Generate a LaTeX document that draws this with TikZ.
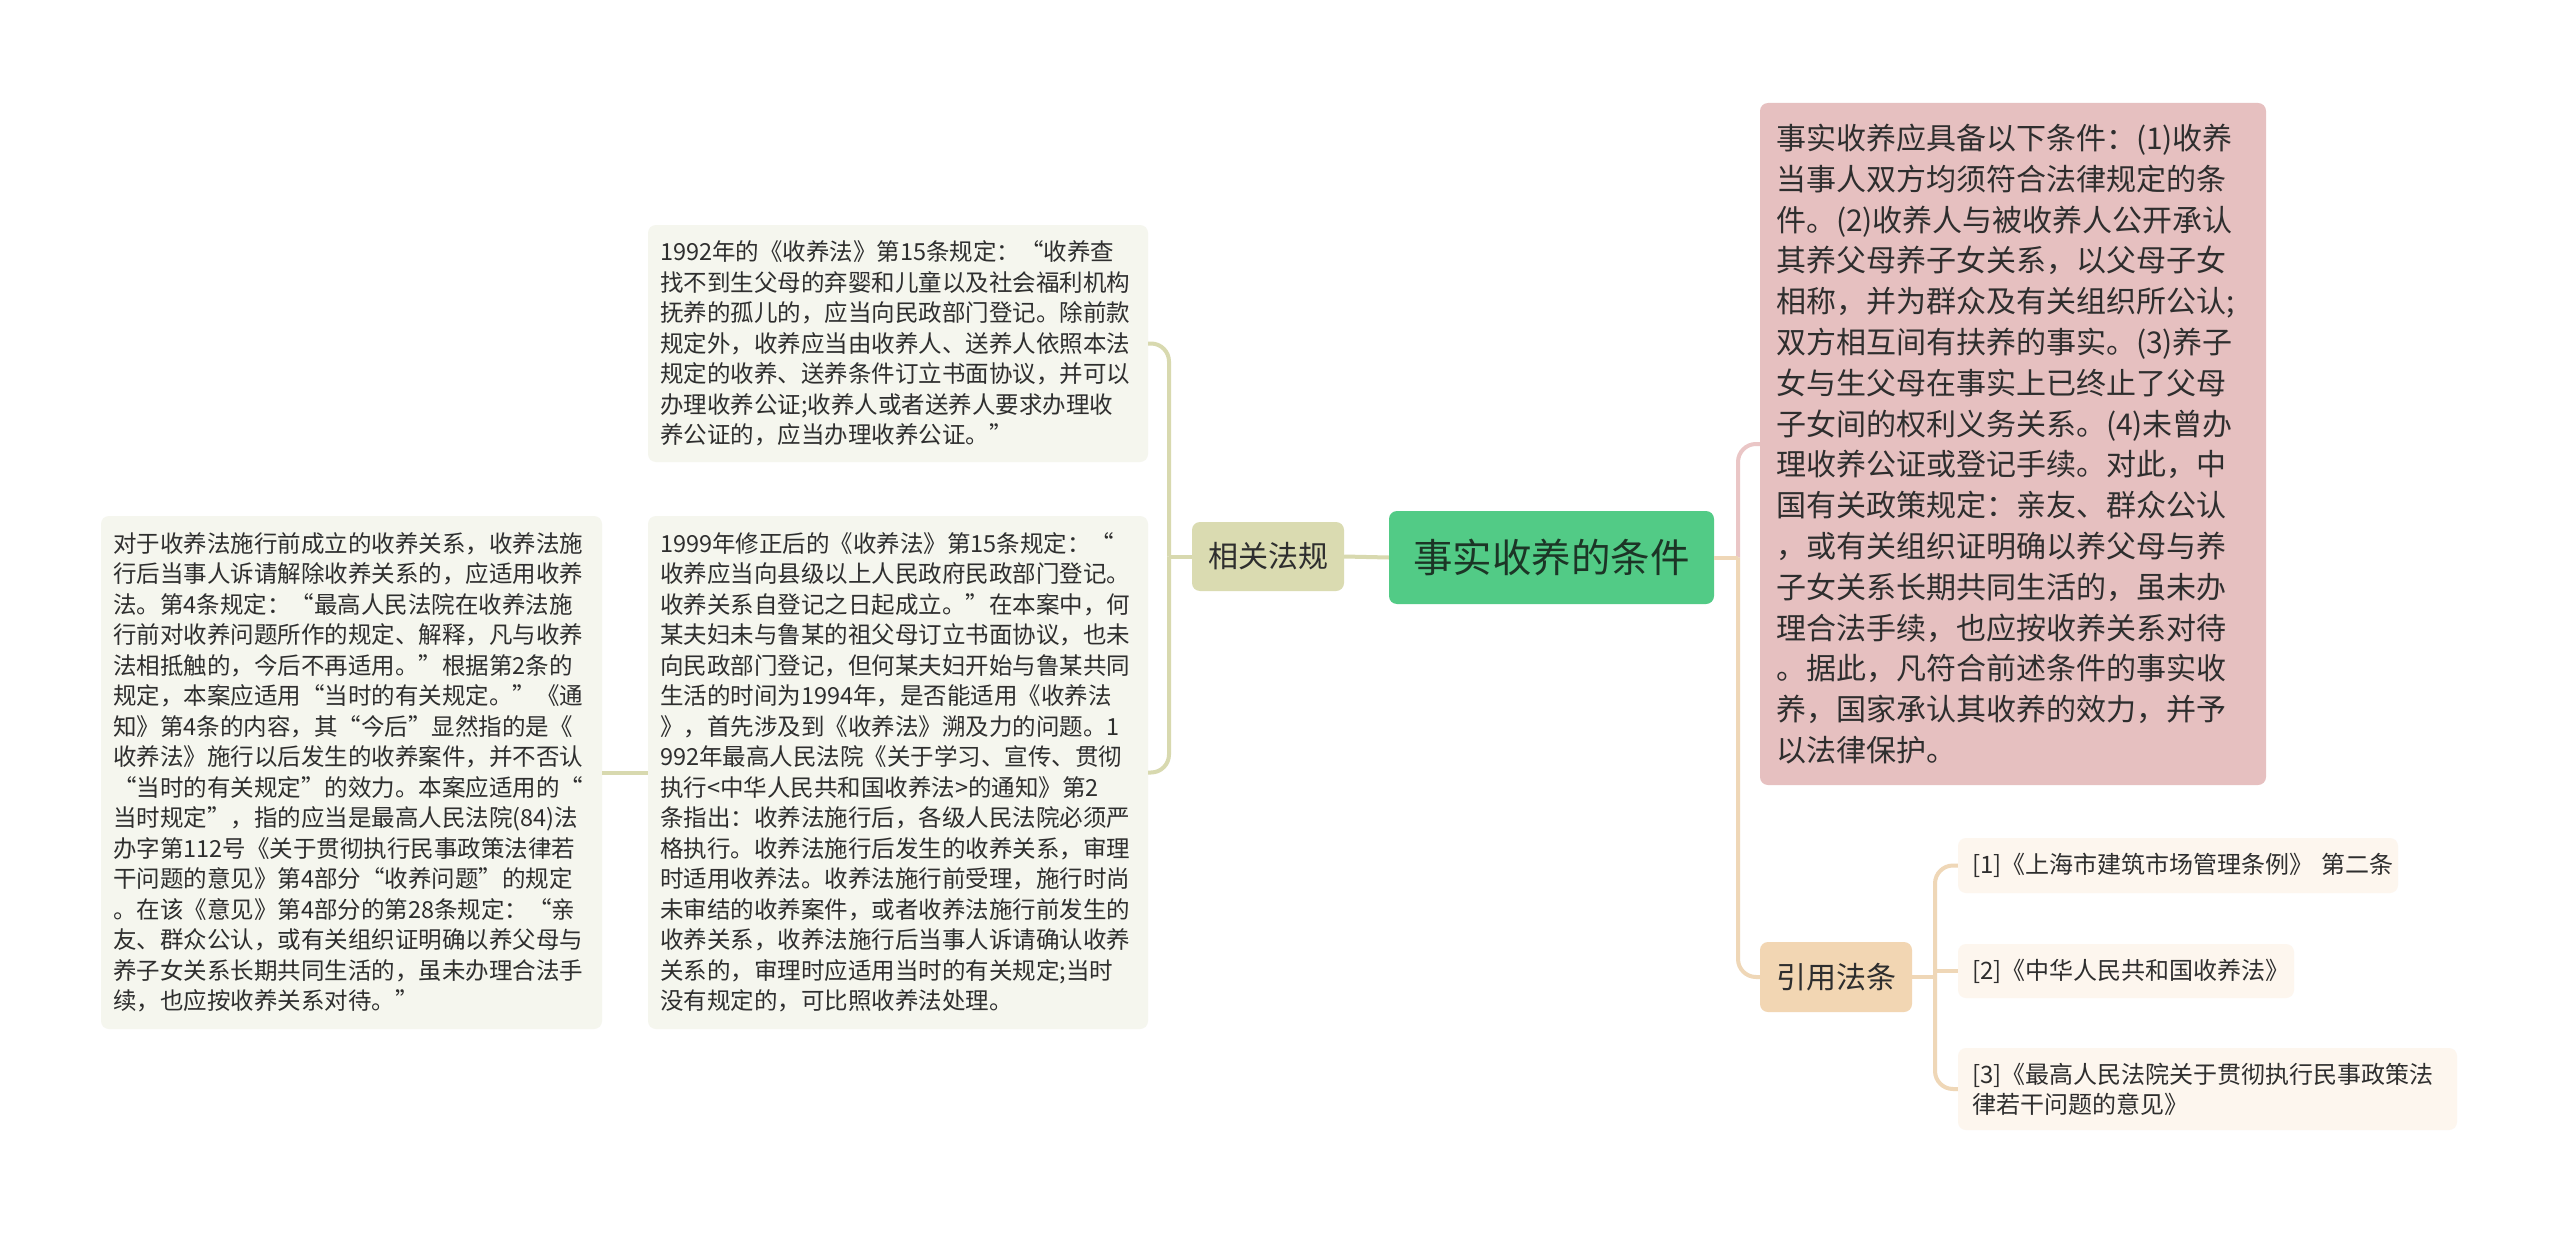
\documentclass[tikz,border=0pt]{standalone}
\usepackage{fontspec}
\setmainfont{Noto Sans CJK SC}
\definecolor{txt}{HTML}{2E2E2E}
\definecolor{greenfill}{HTML}{52CB86}
\definecolor{greentxt}{HTML}{1C3526}
\definecolor{olivefill}{HTML}{DADBB1}
\definecolor{olivelight}{HTML}{F5F6EE}
\definecolor{oliveline}{HTML}{D8D9AF}
\definecolor{pinkfill}{HTML}{E6C0C0}
\definecolor{pinkline}{HTML}{EAC6C6}
\definecolor{tanfill}{HTML}{F2D6B3}
\definecolor{tanline}{HTML}{EFD7B7}
\definecolor{tanlight}{HTML}{FDF6EE}
\tikzset{
  basebox/.style={rectangle, rounded corners=8pt, draw=none, inner ysep=0pt, text=txt},
  textbox/.style={basebox, align=left, inner xsep=12pt, font=\fontsize{23.5}{30.5}\selectfont},
  conn/.style={line width=4pt},
}
\begin{document}
\begin{tikzpicture}[x=1pt,y=-1pt]
\useasboundingbox (0,0) rectangle (2560,1236);
\fill[white] (0,0) rectangle (2560,1236);

% central node
\node[basebox, fill=greenfill, text=greentxt, minimum width=325pt, minimum height=93pt,
  font=\fontsize{39.5}{44}\selectfont] (root) at (1551.5,557.5) {事实收养的条件};

% left branch
\node[basebox, fill=olivefill, minimum width=152pt, minimum height=69pt,
  font=\fontsize{30}{34}\selectfont] (rel) at (1268,556.5) {相关法规};

\node[textbox, fill=olivelight, minimum width=500pt, minimum height=237pt, text width=476pt] (boxA) at (898,343.5) {%
1992年的《收养法》第15条规定：“收养查\\
找不到生父母的弃婴和儿童以及社会福利机构\\
抚养的孤儿的，应当向民政部门登记。除前款\\
规定外，收养应当由收养人、送养人依照本法\\
规定的收养、送养条件订立书面协议，并可以\\
办理收养公证;收养人或者送养人要求办理收\\
养公证的，应当办理收养公证。”};

\node[textbox, fill=olivelight, minimum width=500pt, minimum height=513pt, text width=476pt] (boxB) at (898,772.5) {%
1999年修正后的《收养法》第15条规定：“\\
收养应当向县级以上人民政府民政部门登记。\\
收养关系自登记之日起成立。”在本案中，何\\
某夫妇未与鲁某的祖父母订立书面协议，也未\\
向民政部门登记，但何某夫妇开始与鲁某共同\\
生活的时间为1994年，是否能适用《收养法\\
》，首先涉及到《收养法》溯及力的问题。1\\
992年最高人民法院《关于学习、宣传、贯彻\\
执行<中华人民共和国收养法>的通知》第2\\
条指出：收养法施行后，各级人民法院必须严\\
格执行。收养法施行后发生的收养关系，审理\\
时适用收养法。收养法施行前受理，施行时尚\\
未审结的收养案件，或者收养法施行前发生的\\
收养关系，收养法施行后当事人诉请确认收养\\
关系的，审理时应适用当时的有关规定;当时\\
没有规定的，可比照收养法处理。};

\node[textbox, fill=olivelight, minimum width=501pt, minimum height=513pt, text width=477pt] (boxC) at (351.5,772.5) {%
对于收养法施行前成立的收养关系，收养法施\\
行后当事人诉请解除收养关系的，应适用收养\\
法。第4条规定：“最高人民法院在收养法施\\
行前对收养问题所作的规定、解释，凡与收养\\
法相抵触的，今后不再适用。”根据第2条的\\
规定，本案应适用“当时的有关规定。”《通\\
知》第4条的内容，其“今后”显然指的是《\\
收养法》施行以后发生的收养案件，并不否认\\
“当时的有关规定”的效力。本案应适用的“\\
当时规定”，指的应当是最高人民法院(84)法\\
办字第112号《关于贯彻执行民事政策法律若\\
干问题的意见》第4部分“收养问题”的规定\\
。在该《意见》第4部分的第28条规定：“亲\\
友、群众公认，或有关组织证明确以养父母与\\
养子女关系长期共同生活的，虽未办理合法手\\
续，也应按收养关系对待。”};

% right branch
\node[basebox, fill=pinkfill, align=left, inner xsep=16pt, minimum width=506pt, minimum height=682pt,
  text width=474pt, font=\fontsize{30}{40.8}\selectfont] (pink) at (2013,444) {%
事实收养应具备以下条件：(1)收养\\
当事人双方均须符合法律规定的条\\
件。(2)收养人与被收养人公开承认\\
其养父母养子女关系，以父母子女\\
相称，并为群众及有关组织所公认;\\
双方相互间有扶养的事实。(3)养子\\
女与生父母在事实上已终止了父母\\
子女间的权利义务关系。(4)未曾办\\
理收养公证或登记手续。对此，中\\
国有关政策规定：亲友、群众公认\\
，或有关组织证明确以养父母与养\\
子女关系长期共同生活的，虽未办\\
理合法手续，也应按收养关系对待\\
。据此，凡符合前述条件的事实收\\
养，国家承认其收养的效力，并予\\
以法律保护。};

\node[basebox, fill=tanfill, minimum width=152pt, minimum height=70pt,
  font=\fontsize{30}{34}\selectfont] (cite) at (1836,977) {引用法条};

\tikzset{refbox/.style={basebox, fill=tanlight, align=left, inner xsep=14pt,
  font=\fontsize{24}{30}\selectfont}}
\node[refbox, minimum width=440pt, minimum height=55pt, text width=412pt] (ref1) at (2178,865.5)
  {[1]《上海市建筑市场管理条例》~第二条};
\node[refbox, minimum width=336pt, minimum height=54pt, text width=308pt] (ref2) at (2126,971)
  {[2]《中华人民共和国收养法》};
\node[refbox, minimum width=499pt, minimum height=82pt, text width=471pt] (ref3) at (2207.5,1089)
  {[3]《最高人民法院关于贯彻执行民事政策法\\律若干问题的意见》};

% connectors
\coordinate (jL) at (1169,556.5);
\coordinate (jR) at (1738,557.5);
\coordinate (jC) at (1935,977);

\draw[conn, oliveline] (root.west) -- (rel.east);
\draw[conn, oliveline] (rel.west) -- (jL);
\draw[conn, oliveline, rounded corners=18pt] (jL) |- (boxA.east);
\draw[conn, oliveline, rounded corners=18pt] (jL) |- (boxB.east);
\draw[conn, oliveline] (boxB.west) -- (boxC.east);

\draw[conn, pinkline, rounded corners=18pt] (jR) |- (pink.west);
\draw[conn, tanline] (root.east) -- (jR);
\draw[conn, tanline, rounded corners=18pt] (jR) |- (cite.west);

\draw[conn, tanline] (cite.east) -- (jC);
\draw[conn, tanline, rounded corners=18pt] (jC) |- (ref1.west);
\draw[conn, tanline, rounded corners=18pt] (jC) |- (ref3.west);
\draw[conn, tanline] (ref2.west -| jC) -- (ref2.west);
\end{tikzpicture}
\end{document}
